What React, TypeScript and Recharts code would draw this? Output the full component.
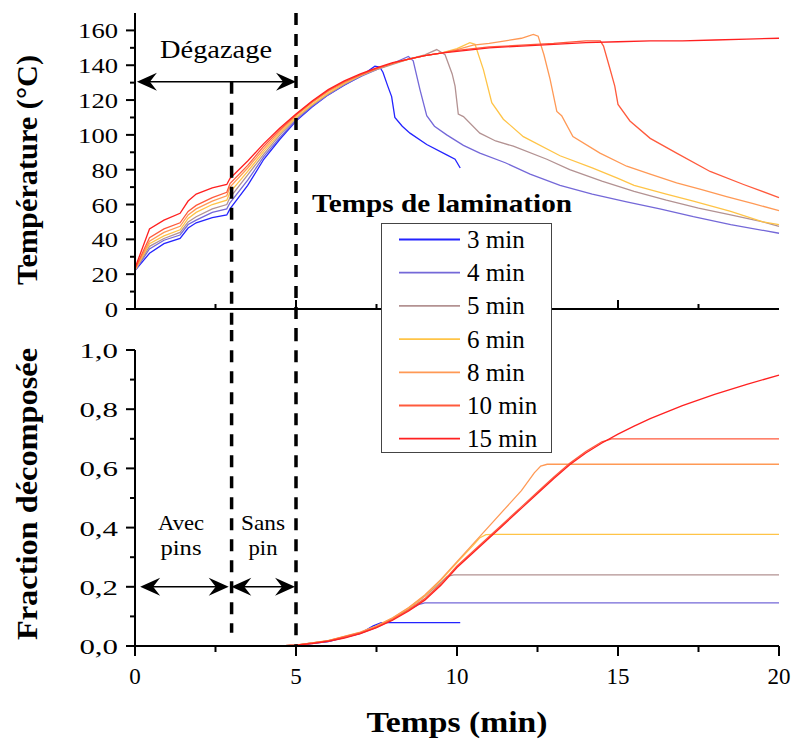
import React from 'react';
import { LineChart, Line, XAxis, YAxis, ReferenceLine } from 'recharts';

const FONT = 'Liberation Serif';

const seriesNames = ['3 min', '4 min', '5 min', '6 min', '8 min', '10 min', '15 min'];
const seriesColors = ['#2323ff', '#7468d8', '#b39292', '#ffc447', '#ff9955', '#ff5a3c', '#ff2020'];

// température (°C) en fonction du temps (min)
const temp3 = [[0,22],[0.45,32],[0.9,37.5],[1.4,40.5],[1.65,46.5],[1.9,49.5],[2.4,52.5],[2.85,54],[2.95,57.5],[3.5,71],[4,86],[4.5,97.5],[5,108],[5.5,116],[6,123],[6.5,128.5],[7,133.5],[7.45,139.5],[7.6,139],[7.7,136],[7.85,128],[7.97,122],[8.07,110],[8.3,105],[8.54,101],[9.06,94.5],[9.68,88.5],[9.94,86],[10.1,81]];
const temp4 = [[0,22],[0.45,34.5],[0.9,39.5],[1.4,42.5],[1.65,48.5],[1.9,51],[2.4,55.5],[2.85,57.5],[2.95,61],[3.5,74],[4,87.5],[4.5,98.5],[5,108.5],[5.5,116.5],[6,123],[6.5,129],[7,133.5],[7.5,137.5],[8,141],[8.49,145],[8.64,142.5],[8.85,126],[9.06,111],[9.3,105],[9.68,100],[10.2,94],[10.71,89.5],[11.5,84],[12.27,77.5],[13.2,71],[14.2,66],[15.27,61.5],[16.3,57.5],[17.34,53],[18.5,48.5],[20,43.5]];
const temp5 = [[0,22],[0.45,36],[0.9,40.5],[1.4,44],[1.65,50],[1.9,53],[2.4,57.5],[2.85,60],[2.95,64],[3.5,77],[4,89],[4.5,100],[5,109.5],[5.5,117],[6,123.5],[6.5,129],[7,134],[7.5,137.5],[8,140.5],[8.5,143.5],[9,146],[9.37,149],[9.63,146],[9.85,135],[9.94,128],[10.04,112],[10.2,110.5],[10.71,101],[11.2,96.5],[11.75,93.5],[12.79,86],[13.5,80],[14.5,73.5],[15.5,67.5],[16.5,62.5],[17.5,58],[18.5,54],[19.5,50],[20,47.5]];
const temp6 = [[0,22.5],[0.45,37.5],[0.9,42],[1.4,45.5],[1.65,52],[1.9,55.5],[2.4,60],[2.85,62.5],[2.95,67],[3.5,79],[4,90.5],[4.5,101],[5,110],[5.5,117.5],[6,124],[6.5,129.5],[7,134],[7.5,138],[8,141],[8.5,143.5],[9,145.5],[9.5,147],[10,149.5],[10.4,153],[10.56,152],[10.82,137.5],[11.08,118.5],[11.44,109],[12.06,99],[13.2,88],[14.2,81],[15,75],[15.5,71],[16.5,66],[17.34,62],[18.5,56],[19.5,50],[20,48.5]];
const temp8 = [[0,22.5],[0.45,39],[0.9,44],[1.4,47.5],[1.65,54],[1.9,57.5],[2.4,62],[2.85,65],[2.95,70],[3.5,81],[4,92],[4.5,102],[5,111],[5.5,118.5],[6,125],[6.5,130],[7,134.5],[7.5,138],[8,141],[8.5,143.5],[9,145.5],[9.5,147],[10,149],[10.5,151.5],[11,152.5],[11.5,154],[12,155.5],[12.37,157.7],[12.52,156.7],[12.7,146],[12.89,132],[13.1,113.5],[13.25,111],[13.6,99],[14.44,89.5],[15.27,82],[16,77.5],[16.82,72.5],[17.6,68.5],[18.37,64.5],[19.2,60.5],[20,56.5]];
const temp10 = [[0,23],[0.45,41],[0.9,46],[1.4,49.5],[1.65,56],[1.9,59.5],[2.4,64],[2.85,67],[2.95,72],[3.5,82.5],[4,93.5],[4.5,103],[5,111.5],[5.5,119],[6,125.5],[6.5,130.5],[7,134.5],[7.5,138],[8,141],[8.5,143.5],[9,145.5],[9.5,147],[10,148.5],[11,150.5],[12,151.5],[13,152.5],[14,154],[14.45,154],[14.55,151],[14.75,138],[14.9,128],[15,117.5],[15.37,108],[16,98],[16.82,89.5],[17.86,79],[18.9,71.5],[20,64]];
const temp15 = [[0,23.5],[0.45,46],[0.9,51],[1.4,55],[1.65,62],[1.9,66],[2.4,69.5],[2.85,71.5],[2.95,75],[3.5,85],[4,95],[4.5,104],[5,112],[5.5,119.5],[6,126],[6.5,131],[7,135],[7.5,138.5],[8,141.5],[8.5,143.5],[9,145.5],[9.5,147],[10,148],[11,150],[12,151],[13,152],[14,153],[15,153.5],[16,154],[17,154],[18,154.5],[19,155],[20,155.5]];

// fraction décomposée en fonction du temps (min)
const frac3 = [[4.5,0],[5,0.002],[6,0.015],[7,0.043],[7.4,0.068],[7.65,0.079],[10.1,0.079]];
const frac4 = [[4.5,0],[5,0.003],[6,0.016],[7,0.043],[7.5,0.063],[8,0.09],[8.5,0.122],[8.8,0.14],[9,0.146],[20,0.146]];
const frac5 = [[4.5,0],[5,0.003],[6,0.017],[7,0.045],[7.5,0.065],[8,0.092],[8.5,0.126],[9,0.168],[9.5,0.215],[9.7,0.235],[9.9,0.24],[20,0.24]];
const frac6 = [[4.5,0],[5,0.003],[6,0.018],[7,0.046],[7.5,0.067],[8,0.094],[8.5,0.128],[9,0.17],[9.5,0.222],[10,0.282],[10.5,0.34],[10.7,0.365],[10.9,0.376],[11.2,0.377],[20,0.377]];
const frac8 = [[4.5,0],[5,0.003],[6,0.018],[7,0.047],[7.5,0.068],[8,0.095],[8.5,0.13],[9,0.172],[9.5,0.225],[10,0.285],[10.5,0.345],[11,0.405],[11.5,0.465],[12,0.525],[12.4,0.585],[12.6,0.608],[12.8,0.614],[20,0.614]];
const frac10 = [[4.5,0],[5,0.003],[6,0.017],[7,0.044],[7.5,0.064],[8,0.09],[8.5,0.122],[9,0.16],[9.5,0.21],[10,0.27],[10.5,0.32],[11,0.37],[11.5,0.42],[12,0.47],[12.5,0.52],[13,0.57],[13.5,0.617],[14,0.657],[14.5,0.69],[14.8,0.7],[20,0.7]];
const frac15 = [[4.5,0],[5,0.003],[5.5,0.008],[6,0.016],[6.5,0.027],[7,0.042],[7.5,0.062],[8,0.087],[8.5,0.118],[9,0.155],[9.5,0.205],[10,0.265],[10.5,0.315],[11,0.365],[11.5,0.415],[12,0.465],[12.5,0.515],[13,0.565],[13.5,0.612],[14,0.652],[14.5,0.686],[15,0.716],[15.5,0.743],[16,0.768],[17,0.812],[18,0.85],[19,0.884],[20,0.915]];

const tempSeries = [temp3, temp4, temp5, temp6, temp8, temp10, temp15];
const fracSeries = [frac3, frac4, frac5, frac6, frac8, frac10, frac15];

const timeTicks = [0, 2.5, 5, 7.5, 10, 12.5, 15, 17.5, 20];
const tempTicks = [0, 10, 20, 30, 40, 50, 60, 70, 80, 90, 100, 110, 120, 130, 140, 150, 160];
const fracTicks = [0, 0.1, 0.2, 0.3, 0.4, 0.5, 0.6, 0.7, 0.8, 0.9, 1.0];

const toPts = (arr: number[][]) => arr.map(([x, y]) => ({ x, y }));

const isMajorTime = (v: number) => v % 5 === 0;

// ticks that point into the plot (dir = -1 up, 1 down)
const inTick = (dir: number) => (p: any) => {
  const v = p.payload.value;
  if (v === 0 || v === 20) return <g />;
  const len = isMajorTime(v) ? 9 : 5;
  return <line x1={p.x} x2={p.x} y1={p.y} y2={p.y + dir * len} stroke="#000" strokeWidth={2} />;
};

const bottomTick = (p: any) => {
  const v = p.payload.value;
  const major = isMajorTime(v);
  return (
    <g>
      <line x1={p.x} x2={p.x} y1={p.y} y2={p.y + (major ? 10 : 6)} stroke="#000" strokeWidth={2} />
      {major && (
        <text x={p.x} y={p.y + 38} textAnchor="middle" style={{ fontFamily: FONT }} fontSize={23} fill="#000">{v}</text>
      )}
    </g>
  );
};

// the left labels are drawn wider than the font gives, as in the figure
const labelWidth = (s: string) => s.split('').reduce((w, c) => w + (c === ',' ? 12 : 13.3), 0);

const leftTick = (isMajor: (v: number) => boolean, fmt: (v: number) => string) => (p: any) => {
  const v = p.payload.value;
  const major = isMajor(v);
  const s = fmt(v);
  return (
    <g>
      <line x1={p.x - (major ? 9 : 5)} x2={p.x} y1={p.y} y2={p.y} stroke="#000" strokeWidth={2} />
      {major && (
        <text x={p.x - 17} y={p.y + 8} textAnchor="end" style={{ fontFamily: FONT }} fontSize={22} fill="#000"
          textLength={labelWidth(s)} lengthAdjust="spacingAndGlyphs">{s}</text>
      )}
    </g>
  );
};

const DoubleArrow = (p: any) => {
  const xa = Math.min(p.x1, p.x2);
  const xb = Math.max(p.x1, p.x2);
  const y = p.y1;
  const L = 20, H = 9, N = 13;
  return (
    <g>
      <line x1={xa + 8} y1={y} x2={xb - 8} y2={y} stroke="#000" strokeWidth={1.5} />
      <polygon points={`${xa},${y} ${xa + L},${y - H} ${xa + N},${y} ${xa + L},${y + H}`} fill="#000" />
      <polygon points={`${xb},${y} ${xb - L},${y - H} ${xb - N},${y} ${xb - L},${y + H}`} fill="#000" />
    </g>
  );
};

const axisLine = { stroke: '#000', strokeWidth: 2 };
const dash = { stroke: '#000', strokeWidth: 3.5, strokeDasharray: '12 9' };

function Legend() {
  return (
    <div style={{ position: 'absolute', left: 381, top: 223, width: 171, height: 230, border: '1.5px solid #444', background: '#fff', boxSizing: 'border-box', zIndex: 5 }}>
      <svg width={169} height={227}>
        {seriesNames.map((name, i) => (
          <g key={name}>
            <line x1={17} x2={78} y1={15.5 + 33.2 * i} y2={15.5 + 33.2 * i} stroke={seriesColors[i]} strokeWidth={1.8} />
            <text x={85} y={24 + 33.2 * i} style={{ fontFamily: FONT }} fontSize={25} fill="#000">{name}</text>
          </g>
        ))}
      </svg>
    </div>
  );
}

export default function App() {
  return (
    <div style={{ position: 'absolute', left: 0, top: 0, width: 793, height: 745, background: '#fff', overflow: 'hidden', fontFamily: FONT }}>
      <div style={{ position: 'absolute', left: 0, top: 0 }}>
        <LineChart width={793} height={330} margin={{ top: 13, right: 14, bottom: 0, left: 0 }}>
          <XAxis xAxisId="b" dataKey="x" type="number" domain={[0, 20]} ticks={timeTicks} interval={0} height={21}
            tickSize={0} tickMargin={0} tickLine={false} axisLine={axisLine} tick={inTick(-1)} />
          <XAxis xAxisId="t" orientation="top" dataKey="x" type="number" domain={[0, 20]} ticks={timeTicks} interval={0} height={0}
            tickSize={0} tickMargin={0} tickLine={false} axisLine={axisLine} tick={inTick(1)} />
          <YAxis yAxisId="l" type="number" domain={[0, 170]} ticks={tempTicks} interval={0} width={135}
            tickSize={0} tickMargin={0} tickLine={false} axisLine={axisLine} tick={leftTick((v) => v % 20 === 0, (v) => String(v))} />
          <YAxis yAxisId="r" orientation="right" type="number" domain={[0, 170]} width={0} tick={false} tickLine={false} axisLine={axisLine} />
          {tempSeries.map((s, i) => (
            <Line key={seriesNames[i]} xAxisId="b" yAxisId="l" data={toPts(s)} dataKey="y" type="linear" dot={false}
              stroke={seriesColors[i]} strokeWidth={1.3} isAnimationActive={false} />
          ))}
          <ReferenceLine xAxisId="b" yAxisId="l" segment={[{ x: 5, y: 170 }, { x: 5, y: -23.6 }]} ifOverflow="visible" {...dash} />
          <ReferenceLine xAxisId="b" yAxisId="l" segment={[{ x: 3, y: 130.5 }, { x: 3, y: -23.6 }]} ifOverflow="visible" {...dash} />
          <ReferenceLine xAxisId="b" yAxisId="l" segment={[{ x: 0.06, y: 130.5 }, { x: 5, y: 130.5 }]} ifOverflow="visible" shape={DoubleArrow} />
        </LineChart>
      </div>
      <div style={{ position: 'absolute', left: 0, top: 330 }}>
        <LineChart width={793} height={415} margin={{ top: 20, right: 14, bottom: 0, left: 0 }}>
          <XAxis xAxisId="b" dataKey="x" type="number" domain={[0, 20]} ticks={timeTicks} interval={0} height={99}
            tickSize={0} tickMargin={0} tickLine={false} axisLine={axisLine} tick={bottomTick} />
          <XAxis xAxisId="t" orientation="top" dataKey="x" type="number" domain={[0, 20]} ticks={timeTicks} interval={0} height={0}
            tickSize={0} tickMargin={0} tickLine={false} axisLine={axisLine} tick={inTick(1)} />
          <YAxis yAxisId="l" type="number" domain={[0, 1]} ticks={fracTicks} interval={0} width={135}
            tickSize={0} tickMargin={0} tickLine={false} axisLine={axisLine}
            tick={leftTick((v) => Math.round(v * 10) % 2 === 0, (v) => v.toFixed(1).replace('.', ','))} />
          <YAxis yAxisId="r" orientation="right" type="number" domain={[0, 1]} width={0} tick={false} tickLine={false} axisLine={axisLine} />
          {fracSeries.map((s, i) => (
            <Line key={seriesNames[i]} xAxisId="b" yAxisId="l" data={toPts(s)} dataKey="y" type="linear" dot={false}
              stroke={seriesColors[i]} strokeWidth={1.3} isAnimationActive={false} />
          ))}
          <ReferenceLine xAxisId="b" yAxisId="l" segment={[{ x: 5, y: 1.07 }, { x: 5, y: 0 }]} ifOverflow="visible" {...dash} />
          <ReferenceLine xAxisId="b" yAxisId="l" segment={[{ x: 3, y: 1.07 }, { x: 3, y: 0.045 }]} ifOverflow="visible" {...dash} />
          <ReferenceLine xAxisId="b" yAxisId="l" segment={[{ x: 0.16, y: 0.2 }, { x: 2.91, y: 0.2 }]} ifOverflow="visible" shape={DoubleArrow} />
          <ReferenceLine xAxisId="b" yAxisId="l" segment={[{ x: 2.99, y: 0.2 }, { x: 4.97, y: 0.2 }]} ifOverflow="visible" shape={DoubleArrow} />
        </LineChart>
      </div>
      <svg width={793} height={745} style={{ position: 'absolute', left: 0, top: 0, pointerEvents: 'none', fontFamily: FONT }}>
        <g fill="#000">
          <text x={216} y={58} textAnchor="middle" fontSize={26} textLength={112} lengthAdjust="spacingAndGlyphs">Dégazage</text>
          <text x={442} y={212} textAnchor="middle" fontSize={26} fontWeight="bold" textLength={260} lengthAdjust="spacingAndGlyphs">Temps de lamination</text>
          <text x={181} y={530} textAnchor="middle" fontSize={22} textLength={46} lengthAdjust="spacingAndGlyphs">Avec</text>
          <text x={181} y={555} textAnchor="middle" fontSize={22} textLength={41} lengthAdjust="spacingAndGlyphs">pins</text>
          <text x={263} y={530} textAnchor="middle" fontSize={22} textLength={44} lengthAdjust="spacingAndGlyphs">Sans</text>
          <text x={263} y={555} textAnchor="middle" fontSize={22} textLength={29} lengthAdjust="spacingAndGlyphs">pin</text>
          <text x={457} y={732} textAnchor="middle" fontSize={30} fontWeight="bold" textLength={181} lengthAdjust="spacingAndGlyphs">Temps (min)</text>
          <text transform="translate(37,170) rotate(-90)" textAnchor="middle" fontSize={29} fontWeight="bold" textLength={230} lengthAdjust="spacingAndGlyphs">Température (°C)</text>
          <text transform="translate(37,494) rotate(-90)" textAnchor="middle" fontSize={29} fontWeight="bold" textLength={292} lengthAdjust="spacingAndGlyphs">Fraction décomposée</text>
        </g>
      </svg>
      <Legend />
    </div>
  );
}
